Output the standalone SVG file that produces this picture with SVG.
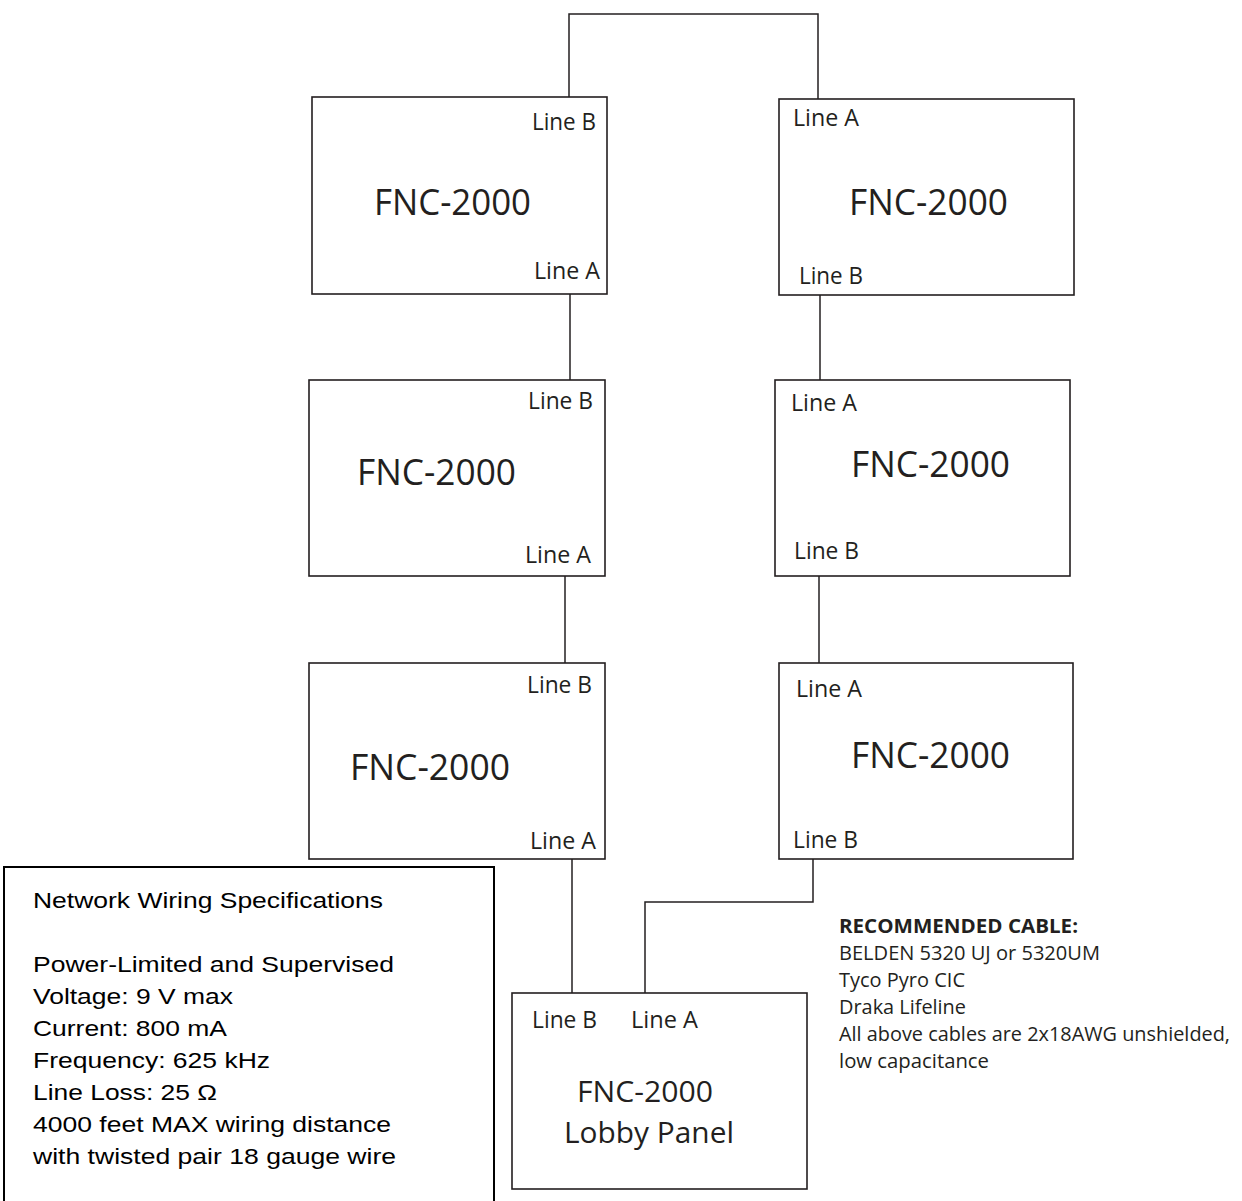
<svg xmlns="http://www.w3.org/2000/svg" width="1242" height="1201" viewBox="0 0 1242 1201">
<style>
.box{fill:#fff;stroke:#231f20;stroke-width:1.6}
.wire{fill:none;stroke:#231f20;stroke-width:1.5}
.lbl{font-family:"Open Sans","Noto Sans",sans-serif;font-size:23px;fill:#231f20}
.name{font-family:"Open Sans","Noto Sans",sans-serif;font-size:36px;fill:#231f20}
.lobby{font-family:"Open Sans","Noto Sans",sans-serif;font-size:30px;fill:#231f20}
.spec{font-family:"Liberation Sans",Arial,sans-serif;font-size:22px;fill:#000}
.rec{font-family:"Open Sans","Noto Sans",sans-serif;font-size:20px;fill:#231f20}
.recb{font-family:"Open Sans","Noto Sans",sans-serif;font-size:20px;font-weight:bold;fill:#231f20}
</style>
<rect width="1242" height="1201" fill="#fff"/>
<g id="connectors">
<path class="wire" d="M569,97 V14 H818 V99"/>
<path class="wire" d="M570,294 V380"/>
<path class="wire" d="M820,295 V380"/>
<path class="wire" d="M565,576 V663"/>
<path class="wire" d="M819,576 V663"/>
<path class="wire" d="M572,859 V993"/>
<path class="wire" d="M813,859 V902 H645 V993"/>
</g>
<g id="node-tl">
<rect class="box" x="312" y="97" width="295" height="197"/>
<text class="lbl" x="532" y="130" textLength="64" lengthAdjust="spacingAndGlyphs">Line B</text>
<text class="name" x="374" y="215" textLength="157" lengthAdjust="spacingAndGlyphs">FNC-2000</text>
<text class="lbl" x="534" y="279" textLength="66" lengthAdjust="spacingAndGlyphs">Line A</text>
</g>
<g id="node-tr">
<rect class="box" x="779" y="99" width="295" height="196"/>
<text class="lbl" x="793" y="126" textLength="66" lengthAdjust="spacingAndGlyphs">Line A</text>
<text class="name" x="849" y="215" textLength="159" lengthAdjust="spacingAndGlyphs">FNC-2000</text>
<text class="lbl" x="799" y="284" textLength="64" lengthAdjust="spacingAndGlyphs">Line B</text>
</g>
<g id="node-ml">
<rect class="box" x="309" y="380" width="296" height="196"/>
<text class="lbl" x="528" y="409" textLength="65" lengthAdjust="spacingAndGlyphs">Line B</text>
<text class="name" x="357" y="485" textLength="159" lengthAdjust="spacingAndGlyphs">FNC-2000</text>
<text class="lbl" x="525" y="563" textLength="66" lengthAdjust="spacingAndGlyphs">Line A</text>
</g>
<g id="node-mr">
<rect class="box" x="775" y="380" width="295" height="196"/>
<text class="lbl" x="791" y="411" textLength="66" lengthAdjust="spacingAndGlyphs">Line A</text>
<text class="name" x="851" y="477" textLength="159" lengthAdjust="spacingAndGlyphs">FNC-2000</text>
<text class="lbl" x="794" y="559" textLength="65" lengthAdjust="spacingAndGlyphs">Line B</text>
</g>
<g id="node-bl">
<rect class="box" x="309" y="663" width="296" height="196"/>
<text class="lbl" x="527" y="693" textLength="65" lengthAdjust="spacingAndGlyphs">Line B</text>
<text class="name" x="350" y="780" textLength="160" lengthAdjust="spacingAndGlyphs">FNC-2000</text>
<text class="lbl" x="530" y="849" textLength="66" lengthAdjust="spacingAndGlyphs">Line A</text>
</g>
<g id="node-br">
<rect class="box" x="779" y="663" width="294" height="196"/>
<text class="lbl" x="796" y="697" textLength="66" lengthAdjust="spacingAndGlyphs">Line A</text>
<text class="name" x="851" y="768" textLength="159" lengthAdjust="spacingAndGlyphs">FNC-2000</text>
<text class="lbl" x="793" y="848" textLength="65" lengthAdjust="spacingAndGlyphs">Line B</text>
</g>
<g id="node-lobby">
<rect class="box" x="512" y="993" width="295" height="196"/>
<text class="lbl" x="532" y="1028" textLength="65" lengthAdjust="spacingAndGlyphs">Line B</text>
<text class="lbl" x="631" y="1028" textLength="67" lengthAdjust="spacingAndGlyphs">Line A</text>
<text class="lobby" x="577" y="1102" textLength="136" lengthAdjust="spacingAndGlyphs">FNC-2000</text>
<text class="lobby" x="564" y="1143" textLength="170" lengthAdjust="spacingAndGlyphs">Lobby Panel</text>
</g>
<g id="spec">
<rect x="4" y="867" width="490" height="345" fill="#fff" stroke="#000" stroke-width="2"/>
<text class="spec" x="33" y="908" textLength="350" lengthAdjust="spacingAndGlyphs">Network Wiring Specifications</text>
<text class="spec" x="33" y="972" textLength="361" lengthAdjust="spacingAndGlyphs">Power-Limited and Supervised</text>
<text class="spec" x="33" y="1004" textLength="200" lengthAdjust="spacingAndGlyphs">Voltage: 9 V max</text>
<text class="spec" x="33" y="1036" textLength="194" lengthAdjust="spacingAndGlyphs">Current: 800 mA</text>
<text class="spec" x="33" y="1068" textLength="237" lengthAdjust="spacingAndGlyphs">Frequency: 625 kHz</text>
<text class="spec" x="33" y="1100" textLength="184" lengthAdjust="spacingAndGlyphs">Line Loss: 25 Ω</text>
<text class="spec" x="33" y="1132" textLength="358" lengthAdjust="spacingAndGlyphs">4000 feet MAX wiring distance</text>
<text class="spec" x="33" y="1164" textLength="363" lengthAdjust="spacingAndGlyphs">with twisted pair 18 gauge wire</text>
</g>
<g id="cable">
<text class="recb" x="839" y="933" textLength="239" lengthAdjust="spacingAndGlyphs">RECOMMENDED CABLE:</text>
<text class="rec" x="839" y="960" textLength="261" lengthAdjust="spacingAndGlyphs">BELDEN 5320 UJ or 5320UM</text>
<text class="rec" x="839" y="987" textLength="126" lengthAdjust="spacingAndGlyphs">Tyco Pyro CIC</text>
<text class="rec" x="839" y="1014" textLength="127" lengthAdjust="spacingAndGlyphs">Draka Lifeline</text>
<text class="rec" x="839" y="1041" textLength="391" lengthAdjust="spacingAndGlyphs">All above cables are 2x18AWG unshielded,</text>
<text class="rec" x="839" y="1068" textLength="150" lengthAdjust="spacingAndGlyphs">low capacitance</text>
</g>
</svg>
